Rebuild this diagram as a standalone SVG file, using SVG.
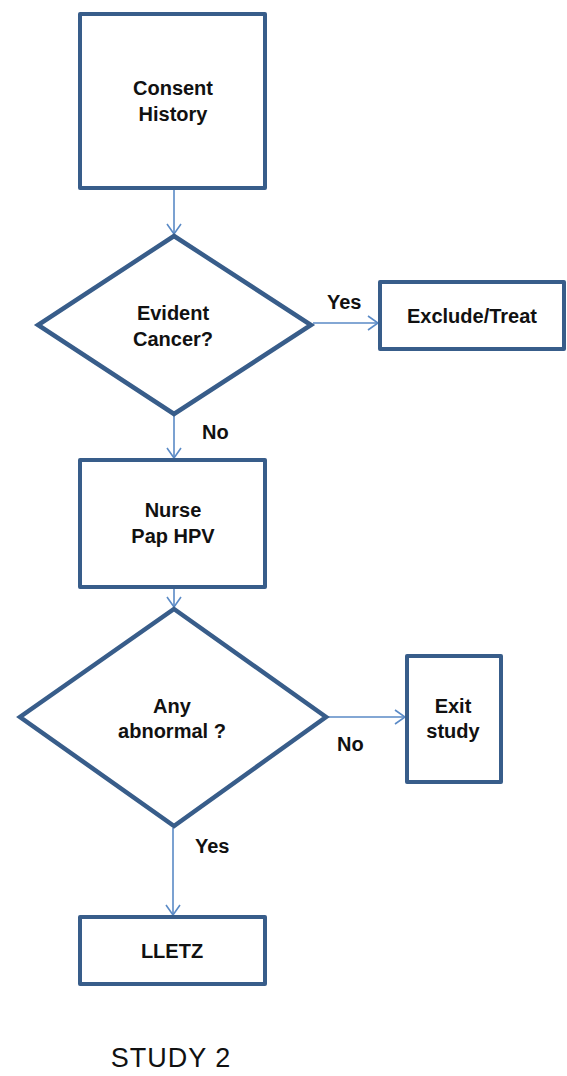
<svg xmlns="http://www.w3.org/2000/svg" width="567" height="1076" viewBox="0 0 567 1076">
  <style>
    .box { fill: #ffffff; stroke: #385D8A; stroke-width: 4; stroke-linejoin: round; }
    .dia { fill: #ffffff; stroke: #385D8A; stroke-width: 4.5; stroke-linejoin: miter; }
    .lbl { font-family: "Liberation Sans", Arial, sans-serif; font-weight: bold; font-size: 20px; fill: #111111; text-anchor: middle; }
    .edge { font-family: "Liberation Sans", Arial, sans-serif; font-weight: bold; font-size: 20px; fill: #111111; }
    .conn { stroke: #5A8AC6; stroke-width: 1.6; fill: none; }
    .title { font-family: "Liberation Sans", Arial, sans-serif; font-size: 27px; letter-spacing: 1px; fill: #111111; text-anchor: middle; }
  </style>
  <defs>
    <marker id="arr" viewBox="0 0 12 16" refX="11" refY="8" markerWidth="12" markerHeight="16" markerUnits="userSpaceOnUse" orient="auto">
      <path d="M1,1 L11,8 L1,15" fill="none" stroke="#5A8AC6" stroke-width="1.6"/>
    </marker>
  </defs>

  <g id="connectors">
    <line class="conn" x1="174" y1="190" x2="174" y2="234" marker-end="url(#arr)"/>
    <line class="conn" x1="313" y1="323" x2="378" y2="323" marker-end="url(#arr)"/>
    <line class="conn" x1="174" y1="416" x2="174" y2="458" marker-end="url(#arr)"/>
    <line class="conn" x1="174" y1="589" x2="174" y2="607" marker-end="url(#arr)"/>
    <line class="conn" x1="328" y1="717" x2="405" y2="717" marker-end="url(#arr)"/>
    <line class="conn" x1="173" y1="828" x2="173" y2="915" marker-end="url(#arr)"/>
    <text class="edge" x="327" y="309">Yes</text>
    <text class="edge" x="202" y="439">No</text>
    <text class="edge" x="337" y="751">No</text>
    <text class="edge" x="195" y="853">Yes</text>
  </g>

  <g id="consent">
    <rect class="box" x="80" y="14" width="185" height="174"/>
    <text class="lbl" x="173" y="95">Consent</text>
    <text class="lbl" x="173" y="121">History</text>
  </g>

  <g id="evident-cancer">
    <polygon class="dia" points="174,236 311,325 174,414 38,325"/>
    <text class="lbl" x="173" y="320">Evident</text>
    <text class="lbl" x="173" y="346">Cancer?</text>
  </g>

  <g id="exclude-treat">
    <rect class="box" x="380" y="282" width="184" height="67"/>
    <text class="lbl" x="472" y="323">Exclude/Treat</text>
  </g>

  <g id="nurse">
    <rect class="box" x="80" y="460" width="185" height="127"/>
    <text class="lbl" x="173" y="517">Nurse</text>
    <text class="lbl" x="173" y="543">Pap HPV</text>
  </g>

  <g id="any-abnormal">
    <polygon class="dia" points="174,609 326,717 174,826 20,717"/>
    <text class="lbl" x="172" y="713">Any</text>
    <text class="lbl" x="172" y="738">abnormal ?</text>
  </g>

  <g id="exit-study">
    <rect class="box" x="407" y="656" width="94" height="126"/>
    <text class="lbl" x="453" y="713">Exit</text>
    <text class="lbl" x="453" y="738">study</text>
  </g>

  <g id="lletz">
    <rect class="box" x="80" y="917" width="185" height="67"/>
    <text class="lbl" x="172" y="958">LLETZ</text>
  </g>

  <g id="caption">
    <text class="title" x="171" y="1067">STUDY 2</text>
  </g>
</svg>
